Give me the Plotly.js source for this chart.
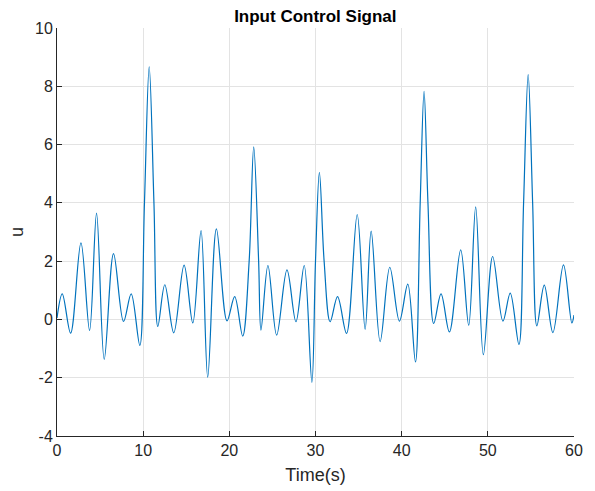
<!DOCTYPE html>
<html>
<head>
<meta charset="utf-8">
<script src="https://cdn.plot.ly/plotly-3.0.1.min.js"></script>
<style>
  html, body { margin: 0; padding: 0; background: #ffffff; }
  #chart { width: 595px; height: 491px; }
</style>
</head>
<body>
<div id="chart"></div>
<script>
// Time samples (s) (extrema and a few flank points)
const timeS = [0, 0.61, 1.58, 2.78, 3.78, 4.59, 5.48, 6.56, 7.72, 8.61, 9.61, 10.15, 10.70, 11.25, 11.70,
  12.51, 13.55, 14.75, 15.76, 16.72, 17.49, 18.50, 19.73, 20.62, 21.55, 22.30, 22.83, 23.40, 23.67,
  24.48, 25.49, 26.69, 27.73, 28.69, 29.58, 30.00, 30.45, 31.00, 31.70, 32.56, 33.60, 34.84, 35.76,
  36.46, 37.50, 38.62, 39.74, 40.71, 41.60, 42.15, 42.60, 43.05, 43.72, 44.57, 45.54, 46.85, 47.78,
  48.59, 49.48, 50.56, 51.75, 52.60, 53.61, 54.15, 54.68, 55.20, 55.69, 56.55, 57.55, 58.78, 59.75, 60.0];

// Control signal u at those times
const uValues = [0.05, 0.88, -0.47, 2.63, -0.38, 3.65, -1.37, 2.26, -0.07, 0.88, -0.89, 4.0, 8.67, 4.0, -0.24,
  1.19, -0.46, 1.86, -0.12, 3.05, -1.98, 3.11, -0.05, 0.78, -0.57, 2.0, 5.92, 2.0, -0.37,
  1.85, -0.54, 1.70, -0.08, 1.85, -2.16, 2.0, 5.05, 2.0, -0.08, 0.78, -0.48, 3.60, -0.34,
  3.03, -0.76, 1.79, -0.06, 1.21, -1.46, 4.0, 7.83, 4.0, -0.14, 0.88, -0.43, 2.39, -0.20,
  3.86, -1.21, 2.16, -0.06, 0.90, -0.86, 4.0, 8.40, 4.0, -0.22, 1.18, -0.45, 1.87, -0.12, 0.15];

const xTickVals = [0, 10, 20, 30, 40, 50, 60];
const xTickText = ["0", "10", "20", "30", "40", "50", "60"];
const yTickVals = [-4, -2, 0, 2, 4, 6, 8, 10];
const yTickText = ["-4", "-2", "0", "2", "4", "6", "8", "10"];

const axisColor = "#262626";
const gridColor = "#e3e3e3";
const fontFamily = "Liberation Sans, Arial, Helvetica, sans-serif";

const trace = {
  x: timeS,
  y: uValues,
  type: "scatter",
  mode: "lines",
  line: { color: "#0072BD", width: 1.2, shape: "spline", smoothing: 1 },
  hoverinfo: "skip"
};

const layout = {
  width: 595,
  height: 491,
  margin: { l: 57, r: 21, t: 28, b: 55 },
  paper_bgcolor: "#ffffff",
  plot_bgcolor: "#ffffff",
  showlegend: false,
  font: { family: fontFamily, color: axisColor },
  title: {
    text: "Input Control Signal",
    font: { family: fontFamily, size: 17, color: "#000000", weight: "bold" },
    x: 0.53, xanchor: "center",
    y: 1 - 16 / 491, yanchor: "middle"
  },
  xaxis: {
    range: [0, 60],
    tickvals: xTickVals,
    ticktext: xTickText,
    showline: true, linecolor: axisColor, linewidth: 1,
    ticks: "inside", ticklen: 5, tickcolor: axisColor, tickwidth: 1,
    showgrid: true, gridcolor: gridColor, gridwidth: 1,
    zeroline: false,
    tickfont: { family: fontFamily, size: 16, color: axisColor },
    title: { text: "Time(s)", font: { family: fontFamily, size: 18, color: axisColor }, standoff: 10 }
  },
  yaxis: {
    range: [-4, 10],
    tickvals: yTickVals,
    ticktext: yTickText,
    showline: true, linecolor: axisColor, linewidth: 1,
    ticks: "inside", ticklen: 5, tickcolor: axisColor, tickwidth: 1,
    showgrid: true, gridcolor: gridColor, gridwidth: 1,
    zeroline: false,
    tickfont: { family: fontFamily, size: 16, color: axisColor },
    title: { text: "u", font: { family: fontFamily, size: 18, color: axisColor }, standoff: 6 }
  }
};

Plotly.newPlot("chart", [trace], layout, { displayModeBar: false, staticPlot: true });
</script>
</body>
</html>
